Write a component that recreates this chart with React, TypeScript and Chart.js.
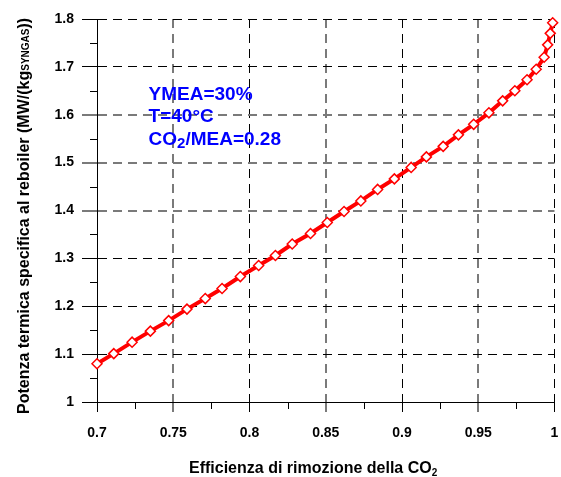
import React, { useEffect, useRef } from "react";
import { Chart, registerables } from "chart.js";

Chart.register(...registerables);

// ---------- data ----------
const efficiency = [
  0.7, 0.711, 0.723, 0.735, 0.747, 0.759, 0.771, 0.782, 0.794, 0.806, 0.817,
  0.828, 0.84, 0.851, 0.862, 0.873, 0.884, 0.895, 0.906, 0.916, 0.927, 0.937,
  0.947, 0.957, 0.966, 0.974, 0.982, 0.988, 0.9932, 0.9955, 0.9972, 0.9988,
];
const reboilerPower = [
  1.08, 1.101, 1.125, 1.148, 1.17, 1.194, 1.216, 1.237, 1.262, 1.285, 1.306,
  1.33, 1.352, 1.375, 1.398, 1.42, 1.444, 1.466, 1.49, 1.512, 1.534, 1.558,
  1.58, 1.604, 1.629, 1.65, 1.673, 1.695, 1.72, 1.746, 1.77, 1.792,
];
const xTicks = [0.7, 0.75, 0.8, 0.85, 0.9, 0.95, 1];
const yTicks = [1, 1.1, 1.2, 1.3, 1.4, 1.5, 1.6, 1.7, 1.8];
const xMinorTicks = [0.725, 0.775, 0.825, 0.875, 0.925, 0.975];
const yMinorTicks = [1.05, 1.15, 1.25, 1.35, 1.45, 1.55, 1.65, 1.75];
const xGreyGrid = [0.75, 0.85, 0.95];
const yGreyGrid = [1.4, 1.5, 1.6];

// text (segments: [text, isSubscript])
const xTitle: [string, boolean][] = [["Efficienza di rimozione della CO", false], ["2", true]];
const yTitle: [string, boolean][] = [
  ["Potenza termica specifica al reboiler (MW/(kg", false],
  ["SYNGAS", true],
  ["))", false],
];
const annotationLines: [string, boolean][][] = [
  [["YMEA=30%", false]],
  [["T=40°C", false]],
  [["CO", false], ["2", true], ["/MEA=0.28", false]],
];
const annotationAnchor = [0.7338, 1.631];

const FONT = '"Liberation Sans", Arial, Helvetica, sans-serif';

function drawSegments(
  ctx: CanvasRenderingContext2D,
  segs: [string, boolean][],
  x: number,
  y: number,
  size: number,
  subSize: number,
  subShift: number
) {
  let cx = x;
  for (const [text, sub] of segs) {
    ctx.font = `bold ${sub ? subSize : size}px ${FONT}`;
    ctx.fillText(text, cx, y + (sub ? subShift : 0));
    cx += ctx.measureText(text).width;
  }
}

const near = (a: number, list: number[]) => list.some((v) => Math.abs(v - a) < 1e-6);

const decorPlugin = {
  id: "decor",
  afterDraw(chart: any) {
    const ctx: CanvasRenderingContext2D = chart.ctx;
    const xs = chart.scales.x;
    const ys = chart.scales.y;
    const area = chart.chartArea;
    ctx.save();
    // minor ticks
    ctx.strokeStyle = "#000";
    ctx.lineWidth = 1;
    ctx.setLineDash([]);
    ctx.beginPath();
    for (const v of xMinorTicks) {
      const px = Math.round(xs.getPixelForValue(v)) + 0.5;
      ctx.moveTo(px, area.bottom);
      ctx.lineTo(px, area.bottom + 7);
    }
    for (const v of yMinorTicks) {
      const py = Math.round(ys.getPixelForValue(v)) + 0.5;
      ctx.moveTo(area.left - 7, py);
      ctx.lineTo(area.left, py);
    }
    ctx.stroke();

    // axis titles
    ctx.fillStyle = "#000";
    ctx.textAlign = "left";
    ctx.textBaseline = "alphabetic";
    drawSegments(ctx, xTitle, 189, 473, 16, 10, 3);

    ctx.save();
    ctx.translate(29, 414);
    ctx.rotate(-Math.PI / 2);
    drawSegments(ctx, yTitle, 0, 0, 16, 10, 0);
    ctx.restore();

    // annotation
    ctx.fillStyle = "#0000ff";
    const ax = xs.getPixelForValue(annotationAnchor[0]);
    const ay = ys.getPixelForValue(annotationAnchor[1]);
    annotationLines.forEach((segs, i) => {
      drawSegments(ctx, segs, ax, ay + i * 22.5, 19, 15, 3);
    });
    ctx.restore();
  },
};

export default function App() {
  const ref = useRef<HTMLCanvasElement | null>(null);

  useEffect(() => {
    if (!ref.current) return;
    const tickFont = { family: FONT, size: 14, weight: "bold" as const };
    const chart = new Chart(ref.current, {
      type: "line",
      data: {
        datasets: [
          {
            data: efficiency.map((x, i) => ({ x, y: reboilerPower[i] })),
            borderColor: "#ff0000",
            borderWidth: 4,
            tension: 0,
            pointStyle: "rectRot",
            pointRadius: 5,
            pointBorderWidth: 1.5,
            pointBorderColor: "#ff0000",
            pointBackgroundColor: "#ffffff",
            clip: false as any,
          },
        ],
      },
      options: {
        animation: false,
        responsive: true,
        maintainAspectRatio: false,
        layout: { padding: { top: 19, right: 5, left: 0, bottom: 0 } },
        plugins: {
          legend: { display: false },
          tooltip: { enabled: false },
          title: { display: false },
        },
        scales: {
          x: {
            type: "linear",
            min: 0.7,
            max: 1,
            afterBuildTicks: (s: any) => {
              s.ticks = xTicks.map((v) => ({ value: v }));
            },
            afterFit: (s: any) => {
              s.height = 75;
              s.paddingLeft = 0;
              s.paddingRight = 0;
            },
            ticks: {
              font: tickFont,
              color: "#000",
              padding: 13,
              maxRotation: 0,
              autoSkip: false,
              callback: (v: any) => String(+Number(v).toFixed(2)),
            },
            grid: {
              color: (c: any) => (c.tick && near(c.tick.value, xGreyGrid) ? "#7a7a7a" : "#000"),
              lineWidth: (c: any) => (c.tick && near(c.tick.value, xGreyGrid) ? 2 : 1),
              tickLength: 10,
              tickBorderDash: [],
            },
            border: { display: true, color: "#000", width: 1, dash: [9, 6] },
          },
          y: {
            type: "linear",
            min: 1,
            max: 1.8,
            afterBuildTicks: (s: any) => {
              s.ticks = yTicks.map((v) => ({ value: v }));
            },
            afterFit: (s: any) => {
              s.width = 97;
              s.paddingTop = 0;
              s.paddingBottom = 0;
            },
            ticks: {
              font: tickFont,
              color: "#000",
              padding: 8,
              autoSkip: false,
              callback: (v: any) => String(+Number(v).toFixed(1)),
            },
            grid: {
              color: (c: any) => (c.tick && near(c.tick.value, yGreyGrid) ? "#7a7a7a" : "#000"),
              lineWidth: (c: any) => (c.tick && near(c.tick.value, yGreyGrid) ? 2 : 1),
              tickLength: 15,
              tickBorderDash: [],
            },
            border: { display: true, color: "#000", width: 1, dash: [9, 6] },
          },
        },
      } as any,
      plugins: [decorPlugin],
    });
    return () => chart.destroy();
  }, []);

  return (
    <div style={{ position: "absolute", left: 0, top: 0, width: 561, height: 477, background: "#fff" }}>
      <canvas ref={ref} style={{ display: "block" }} />
    </div>
  );
}
